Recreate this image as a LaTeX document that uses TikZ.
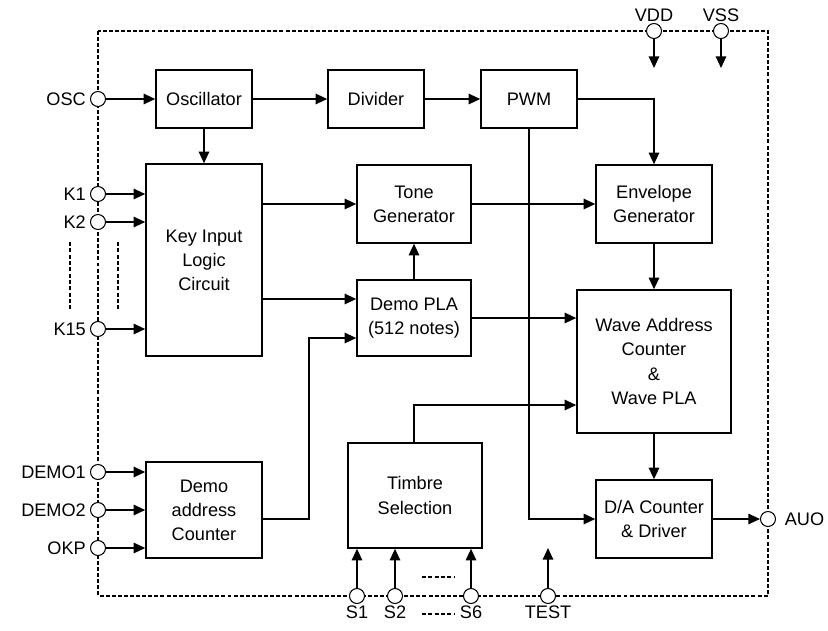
\documentclass[tikz,border=0pt]{standalone}
\usepackage{fontspec}
\setmainfont{Liberation Sans}
\usetikzlibrary{arrows.meta,positioning,calc}
\tikzset{
    blockbox/.style={
        rectangle,                % bloque funcional
        draw=black,
        line width=1.3pt,         % borde firme
        fill=white,
        align=center,             % texto centrado en varias líneas
        inner sep=2pt,
        font=\fontsize{15.5}{20.5}\selectfont
    },
    pinnode/.style={
        circle,                   % terminal del chip
        draw=black,
        fill=white,
        line width=0.9pt,
        inner sep=0pt,
        minimum size=0.45cm,
        label distance=2pt
    },
    every label/.style={
        font=\fontsize{15.5}{18}\selectfont  % nombres de terminales
    },
    wire/.style={
        line width=1.3pt,
        -{Triangle[length=10pt,width=9pt]}  % punta triangular rellena
    },
    chipframe/.style={
        line width=0.9pt,
        dash pattern=on 3.4pt off 1.8pt   % contorno del integrado
    },
    gapmark/.style={
        line width=0.9pt,
        dash pattern=on 3.4pt off 2pt     % puntos suspensivos de terminales
    }
}
\begin{document}
\begin{tikzpicture}[x=0.03cm,y=-0.03cm]
    \useasboundingbox (0,0) rectangle (828,630);

    % contorno del chip
    \draw[chipframe] (98,31) rectangle (768,596);

    % bloques
    \node[blockbox, minimum width=2.88cm, minimum height=1.74cm] (osc) at (204,99) {Oscillator};
    \node[blockbox, minimum width=2.88cm, minimum height=1.74cm] (div) at (376,99) {Divider};
    \node[blockbox, minimum width=2.88cm, minimum height=1.74cm] (pwm) at (529,99) {PWM};
    \node[blockbox, minimum width=3.48cm, minimum height=5.76cm] (keylogic) at (204,260) {Key Input\\Logic\\Circuit};
    \node[blockbox, minimum width=3.42cm, minimum height=2.34cm] (tone) at (414,204) {Tone\\Generator};
    \node[blockbox, minimum width=3.48cm, minimum height=2.34cm] (env) at (654,204) {Envelope\\Generator};
    \node[blockbox, minimum width=3.42cm, minimum height=2.28cm] (demopla) at (414,318) {Demo PLA\\(512 notes)};
    \node[blockbox, minimum width=4.62cm, minimum height=4.29cm] (wave) at (654,361.5) {Wave Address\\Counter\\\&\\Wave PLA};
    \node[blockbox, minimum width=3.48cm, minimum height=2.88cm] (demoaddr) at (204,510) {Demo\\address\\Counter};
    \node[blockbox, minimum width=4.02cm, minimum height=3.15cm] (timbre) at (415,495.5) {Timbre\\Selection};
    \node[blockbox, minimum width=3.48cm, minimum height=2.34cm] (dac) at (654,519) {D/A Counter\\\& Driver};

    % terminales
    \node[pinnode, label=left:OSC] (pinosc) at (98,99) {};
    \node[pinnode, label=left:K1] (pink1) at (98,194) {};
    \node[pinnode, label=left:K2] (pink2) at (98,222) {};
    \node[pinnode, label=left:K15] (pink15) at (98,329) {};
    \node[pinnode, label=left:DEMO1] (pindemoa) at (98,472) {};
    \node[pinnode, label=left:DEMO2] (pindemob) at (98,510) {};
    \node[pinnode, label=left:OKP] (pinokp) at (98,548) {};
    \node[pinnode, label={[label distance=4pt]right:AUO}] (pinauo) at (768,519) {};
    \node[pinnode, label={[label distance=-2pt]above:VDD}] (pinvdd) at (654,31) {};
    \node[pinnode, label={[label distance=-2pt]above:VSS}] (pinvss) at (721,31) {};
    \node[pinnode, label={[label distance=-2pt]below:S1}] (pins1) at (357,596) {};
    \node[pinnode, label={[label distance=-2pt]below:S2}] (pins2) at (395,596) {};
    \node[pinnode, label={[label distance=-2pt]below:S6}] (pins6) at (471,596) {};
    \node[pinnode, label={[label distance=-2pt]below:TEST}] (pintest) at (548,596) {};

    \coordinate (vddend) at (654,68);
    \coordinate (vssend) at (721,68);
    \coordinate (testend) at (548,548);

    % conexiones
    \draw[wire] (pinosc) -- (osc.west);
    \draw[wire] (osc) -- (div);
    \draw[wire] (div) -- (pwm);
    \draw[wire] (osc.south) -- (keylogic.north);
    \draw[wire] (pink1) -- (keylogic.west |- pink1);
    \draw[wire] (pink2) -- (keylogic.west |- pink2);
    \draw[wire] (pink15) -- (keylogic.west |- pink15);
    \draw[wire] (keylogic.east |- tone.west) -- (tone.west);
    \draw[wire] (keylogic.east |- 0,299) -- (demopla.west |- 0,299);
    \draw[wire] (demopla.north) -- (tone.south);
    \draw[wire] (tone.east) -- (env.west);
    \draw[wire] (pwm.east) -| (env.north);
    \draw[wire] (pwm.south) |- (dac.west);
    \draw[wire] (env.south) -- (wave.north);
    \draw[wire] (demopla.east) -- (wave.west |- demopla.east);
    \draw[wire] (timbre.north -| 414,0) |- (wave.west |- 0,405);
    \draw[wire] (wave.south) -- (dac.north);
    \draw[wire] (dac.east) -- (pinauo);
    \draw[wire] (demoaddr.east |- 0,519) -- (309,519) |- (demopla.west |- 0,338);
    \draw[wire] (pindemoa) -- (demoaddr.west |- pindemoa);
    \draw[wire] (pindemob) -- (demoaddr.west |- pindemob);
    \draw[wire] (pinokp) -- (demoaddr.west |- pinokp);
    \draw[wire] (pins1) -- (timbre.south -| pins1);
    \draw[wire] (pins2) -- (timbre.south -| pins2);
    \draw[wire] (pins6) -- (timbre.south -| pins6);
    \draw[wire] (pintest) -- (testend);
    \draw[wire] (pinvdd) -- (vddend);
    \draw[wire] (pinvss) -- (vssend);

    % terminales omitidos
    \draw[gapmark] (70,242) -- (70,310);
    \draw[gapmark] (118,242) -- (118,310);
    \draw[gapmark] (422,577) -- (454,577);
    \draw[gapmark] (422,614) -- (454,614);
\end{tikzpicture}
\end{document}
